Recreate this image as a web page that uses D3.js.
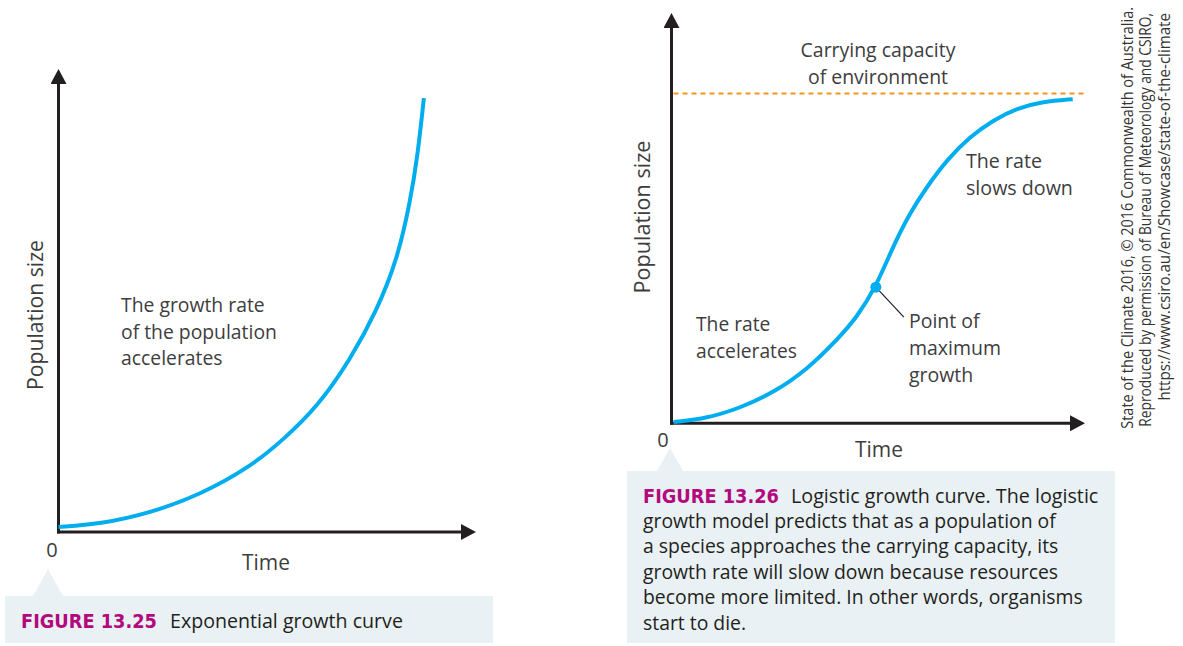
<!DOCTYPE html>
<html>
<head>
<meta charset="utf-8">
<script src="https://cdn.jsdelivr.net/npm/d3@7"></script>
<style>
  body { margin: 0; background: #fff; }
  svg { display: block; }
</style>
</head>
<body>
<svg id="fig" width="1183" height="646"></svg>
<script>
// data (time and population in % of axis length)
var expTime = [0, 9.9, 21.9, 33.8, 45.8, 53.6, 61.8, 69.7, 76.1, 80.9, 84.0, 85.9, 87.3];
var expPop  = [1.1, 1.7, 4.1, 8.0, 14.0, 19.8, 26.9, 37.1, 47.8, 58.6, 70.9, 81.7, 93.5];

var logTime = [0.5, 8.6, 16.5, 24.5, 32.7, 40.6, 44.7, 49.3, 53.4, 57.5, 61.6, 66.4, 72.0, 77.6, 83.3, 89.6, 96.8];
var logPop  = [0.3, 1.2, 3.7, 7.4, 13.0, 21.0, 25.8, 33.1, 42.9, 51.1, 57.5, 64.0, 69.7, 73.7, 76.6, 78.2, 78.8];

var carryingCapacity = 80.2;
var maxGrowth = [49.3, 33.1];

// texts
var axisTitles = ["Time", "Population size"];
var leftNote = ["The growth rate", "of the population", "accelerates"];
var capacityNote = ["Carrying capacity", "of environment"];
var slowNote = ["The rate", "slows down"];
var accelNote = ["The rate", "accelerates"];
var pointNote = ["Point of", "maximum", "growth"];
var caption1 = ["FIGURE 13.25", "Exponential growth curve"];
var caption2Head = ["FIGURE 13.26", "Logistic growth curve. The logistic"];
var caption2Body = ["growth model predicts that as a population of",
                    "a species approaches the carrying capacity, its",
                    "growth rate will slow down because resources",
                    "become more limited. In other words, organisms",
                    "start to die."];
var credit = ["State of the Climate 2016, \u00a9 2016 Commonwealth of Australia.",
              "Reproduced by permission of Bureau of Meteorology and CSIRO,",
              "https://www.csiro.au/en/Showcase/state-of-the-climate"];

var svg = d3.select("svg#fig");
var font = "'Open Sans', 'Noto Sans', sans-serif";
var ink = "#231f20",
    grey = "#3d3d3d",
    blue = "#00aeef",
    orange = "#f7941d",
    magenta = "#b3087e",
    panel = "#e9f1f4";

// scale a text's font-size so that it is as wide as target
function fit(t, target) {
  var w = t.node().getBBox().width;
  t.attr("font-size", +t.attr("font-size") * target / w);
  return t;
}

function block(x, y, lines, size, lead, anchor) {
  var t = svg.append("text")
             .attr("x", x).attr("y", y)
             .attr("font-family", font)
             .attr("font-size", size)
             .attr("fill", grey)
             .attr("text-anchor", anchor || "start");
  t.selectAll("tspan").data(lines).enter().append("tspan")
   .attr("x", x)
   .attr("dy", function(d, i) { return i ? lead : 0; })
   .text(function(d) { return d; });
  return t;
}

// arrow head
svg.append("defs").append("marker")
   .attr("id", "arrow")
   .attr("viewBox", "0 0 15 16")
   .attr("refX", 1).attr("refY", 8)
   .attr("markerWidth", 15).attr("markerHeight", 16)
   .attr("markerUnits", "userSpaceOnUse")
   .attr("orient", "auto")
   .append("path")
   .attr("d", "M0,0 L15,8 L0,16 Z")
   .attr("fill", ink);

// caption panels (drawn first, behind everything)
svg.append("rect").attr("x", 5).attr("y", 596).attr("width", 488).attr("height", 47).attr("fill", panel);
svg.append("path").attr("d", "M33,596 L48,569 L63,596 Z").attr("fill", panel);
svg.append("rect").attr("x", 627).attr("y", 471).attr("width", 488).attr("height", 172).attr("fill", panel);
svg.append("path").attr("d", "M657,471 L670,448 L683,471 Z").attr("fill", panel);

function chart(xRange, yRange, time, pop) {
  var x = d3.scaleLinear().domain([0, 100]).range(xRange),
      y = d3.scaleLinear().domain([0, 100]).range(yRange);

  // axes
  svg.append("line")
     .attr("x1", x(0)).attr("y1", y(0))
     .attr("x2", x(100) - 15).attr("y2", y(0))
     .attr("stroke", ink).attr("stroke-width", 3)
     .attr("stroke-linecap", "square")
     .attr("marker-end", "url(#arrow)");
  svg.append("line")
     .attr("x1", x(0)).attr("y1", y(0))
     .attr("x2", x(0)).attr("y2", y(100) + 15)
     .attr("stroke", ink).attr("stroke-width", 3)
     .attr("stroke-linecap", "square")
     .attr("marker-end", "url(#arrow)");

  var pts = time.map(function(t, i) { return [t, pop[i]]; });
  var line = d3.line()
               .x(function(d) { return x(d[0]); })
               .y(function(d) { return y(d[1]); })
               .curve(d3.curveBasis);
  svg.append("path")
     .datum(pts)
     .attr("d", line)
     .attr("fill", "none")
     .attr("stroke", blue)
     .attr("stroke-width", 4);

  return {x: x, y: y};
}

// left: exponential
var L = chart([58.5, 477], [532, 68], expTime, expPop);
// right: logistic
var R = chart([671.5, 1086], [423.3, 12], logTime, logPop);

// carrying capacity line
svg.append("line")
   .attr("x1", R.x(0) + 2).attr("x2", R.x(100) - 1)
   .attr("y1", R.y(carryingCapacity)).attr("y2", R.y(carryingCapacity))
   .attr("stroke", orange).attr("stroke-width", 2)
   .attr("stroke-dasharray", "5,4");

// point of max growth + leader
var px = R.x(maxGrowth[0]), py = R.y(maxGrowth[1]);
svg.append("line")
   .attr("x1", px).attr("y1", py)
   .attr("x2", px + 28).attr("y2", py + 30)
   .attr("stroke", ink).attr("stroke-width", 1.2);
svg.append("circle")
   .attr("cx", px).attr("cy", py).attr("r", 5.5)
   .attr("fill", blue);

// axis texts
block(52, 557, ["0"], 20, 0, "middle");
block(663, 447, ["0"], 20, 0, "middle");
fit(block(266, 570, [axisTitles[0]], 20, 0, "middle"), 48);
fit(block(879, 457, [axisTitles[0]], 20, 0, "middle"), 48);
fit(block(0, 0, [axisTitles[1]], 20, 0, "middle").attr("transform", "translate(43,315) rotate(-90)"), 150);
fit(block(0, 0, [axisTitles[1]], 20, 0, "middle").attr("transform", "translate(650,217) rotate(-90)"), 153);

// notes
fit(block(121, 312, leftNote, 18, 26.5), 156);
fit(block(878, 57, capacityNote, 18, 26.5, "middle"), 156);
fit(block(966, 168, slowNote, 18, 27), 107);
fit(block(696, 331, accelNote, 18, 27), 101);
fit(block(909, 328, pointNote, 18, 27), 92);

// captions
fit(svg.append("text")
   .attr("x", 21).attr("y", 628)
   .attr("font-family", "'DejaVu Sans Condensed', 'Liberation Sans Narrow', sans-serif")
   .attr("font-weight", "bold").attr("font-size", 18)
   .attr("fill", magenta)
   .text(caption1[0]), 136);
fit(block(170, 628, [caption1[1]], 18, 0).attr("fill", "#231f20"), 233);

fit(svg.append("text")
   .attr("x", 643).attr("y", 503)
   .attr("font-family", "'DejaVu Sans Condensed', 'Liberation Sans Narrow', sans-serif")
   .attr("font-weight", "bold").attr("font-size", 18)
   .attr("fill", magenta)
   .text(caption2Head[0]), 136);
fit(block(791, 503, [caption2Head[1]], 18, 0).attr("fill", "#231f20"), 308);
fit(block(643, 528, caption2Body, 18, 25.4).attr("fill", "#231f20"), 440);

// credit, rotated along the right edge; squeezed along the text to the printed length
credit.forEach(function(s, i) {
  var t = block(0, 0, [s], 15.5, 0, "end").attr("fill", "#333");
  var k = [422, 414, 388][i] / t.node().getBBox().width;
  t.attr("transform", "translate(" + (1132.5 + i * 18.5) + "," + (i == 0 ? 7 : 13) + ") rotate(-90) scale(" + k + ",1)");
});
</script>
</body>
</html>
